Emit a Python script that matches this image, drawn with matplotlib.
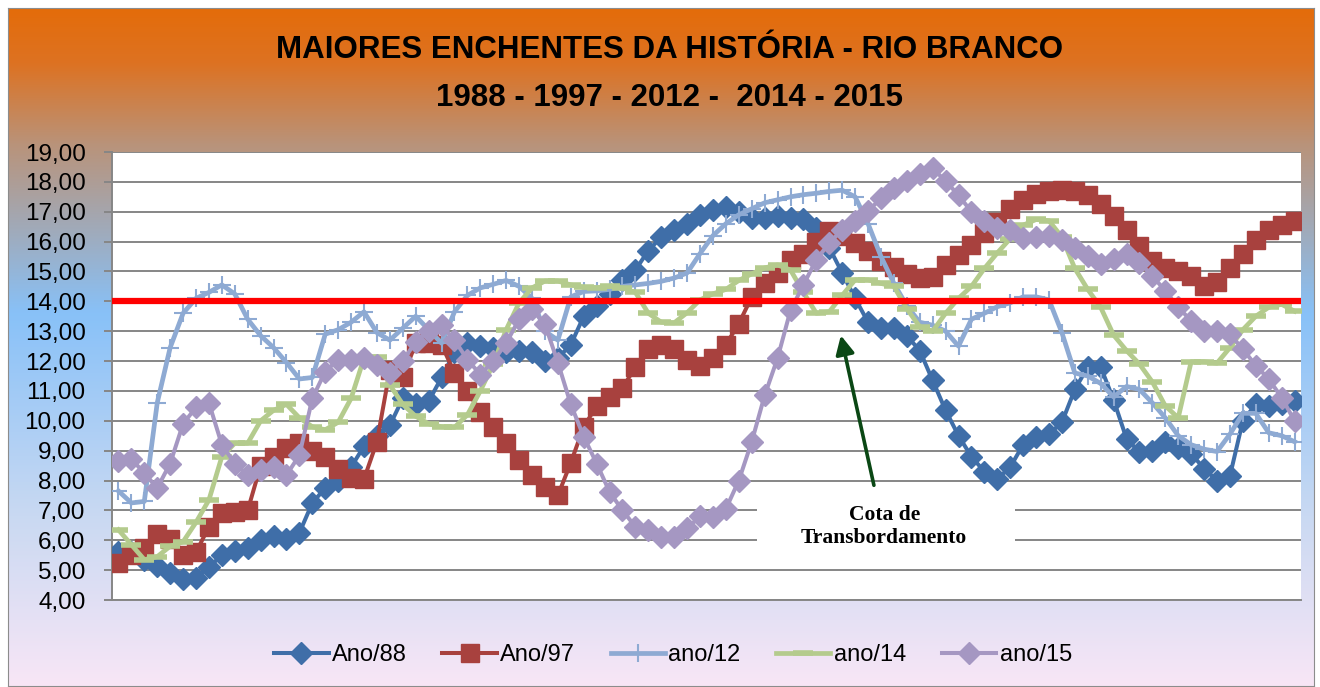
import numpy as np
import matplotlib
matplotlib.use('Agg')
import matplotlib.pyplot as plt
from matplotlib.colors import LinearSegmentedColormap
from matplotlib.lines import Line2D
from matplotlib.patches import Rectangle
from matplotlib.ticker import FuncFormatter

# cotas diarias (m)
ano88 = [5.6, 5.6, 5.35, 5.15, 4.9, 4.7, 4.75, 5.1, 5.5, 5.65,
         5.75, 6.0, 6.15, 6.05, 6.25, 7.25, 7.75, 8.0, 8.45, 9.15,
         9.5, 9.85, 10.75, 10.55, 10.65, 11.45, 12.3, 12.6, 12.5, 12.45,
         12.3, 12.35, 12.3, 12.0, 12.1, 12.55, 13.5, 13.85, 14.25, 14.7,
         15.05, 15.7, 16.15, 16.4, 16.6, 16.9, 17.05, 17.15, 17.0, 16.8,
         16.8, 16.85, 16.8, 16.75, 16.45, 15.8, 14.95, 14.1, 13.3, 13.1,
         13.1, 12.85, 12.35, 11.35, 10.35, 9.5, 8.8, 8.3, 8.05, 8.45,
         9.2, 9.45, 9.55, 9.95, 11.05, 11.8, 11.8, 10.7, 9.4, 8.95,
         9.0, 9.3, 9.1, 8.9, 8.4, 8.0, 8.15, 10.0, 10.55, 10.5,
         10.55, 10.65]
ano97 = [5.25, 5.5, 5.75, 6.2, 6.05, 5.5, 5.6, 6.45, 6.9, 6.95,
         7.0, 8.5, 8.8, 9.1, 9.25, 9.0, 8.8, 8.4, 8.1, 8.05,
         9.3, 11.7, 11.45, 12.6, 12.6, 12.55, 11.6, 11.0, 10.3, 9.8,
         9.25, 8.7, 8.2, 7.8, 7.5, 8.6, 9.8, 10.5, 10.8, 11.1,
         11.8, 12.4, 12.55, 12.4, 12.05, 11.85, 12.1, 12.55, 13.25, 14.15,
         14.6, 14.95, 15.4, 15.6, 16.0, 16.35, 16.2, 15.95, 15.7, 15.35,
         15.15, 14.9, 14.78, 14.8, 15.2, 15.55, 15.9, 16.3, 16.65, 17.1,
         17.4, 17.6, 17.68, 17.72, 17.7, 17.55, 17.25, 16.85, 16.4, 15.85,
         15.35, 15.1, 15.0, 14.85, 14.5, 14.65, 15.1, 15.6, 16.05, 16.4,
         16.55, 16.7]
ano12 = [7.65, 7.25, 7.3, 10.6, 12.45, 13.6, 14.1, 14.3, 14.55, 14.25,
         13.4, 12.85, 12.45, 11.95, 11.4, 11.45, 12.9, 13.05, 13.3, 13.65,
         12.95, 12.7, 13.1, 13.5, 13.05, 12.6, 13.65, 14.2, 14.45, 14.57,
         14.7, 14.5, 14.1, 13.0, 12.7, 14.15, 14.33, 14.35, 14.4, 14.5,
         14.55, 14.6, 14.67, 14.78, 14.95, 15.6, 16.2, 16.6, 16.9, 17.1,
         17.3, 17.4, 17.5, 17.57, 17.62, 17.68, 17.72, 17.5, 16.6, 15.5,
         14.6, 13.85, 13.3, 13.2, 13.0, 12.5, 13.4, 13.6, 13.82, 13.95,
         14.15, 14.15, 14.05, 12.95, 11.6, 11.5, 11.25, 10.8, 11.15, 11.05,
         10.6, 10.1, 9.5, 9.2, 9.05, 8.97, 9.55, 10.25, 10.25, 9.6,
         9.5, 9.3]
ano14 = [6.35, 5.85, 5.35, 5.45, 5.8, 5.95, 6.6, 7.35, 8.8, 9.25,
         9.25, 10.0, 10.35, 10.55, 10.1, 9.8, 9.7, 9.95, 10.75, 12.1,
         12.15, 11.2, 10.55, 10.15, 9.9, 9.8, 9.78, 10.2, 11.0, 11.9,
         13.05, 13.95, 14.45, 14.68, 14.68, 14.55, 14.47, 14.46, 14.5, 14.45,
         14.3, 13.6, 13.3, 13.28, 13.62, 14.05, 14.25, 14.4, 14.7, 14.92,
         15.12, 15.22, 15.05, 14.3, 13.6, 13.65, 14.2, 14.72, 14.72, 14.6,
         14.5, 13.75, 13.15, 13.0, 13.6, 14.1, 14.5, 15.1, 15.62, 16.1,
         16.55, 16.74, 16.7, 16.15, 15.1, 14.4, 13.8, 12.87, 12.35, 11.9,
         11.3, 10.5, 10.1, 11.98, 11.98, 11.93, 12.45, 13.05, 13.5, 13.8,
         13.9, 13.67]
ano15 = [8.65, 8.72, 8.25, 7.75, 8.57, 9.9, 10.45, 10.6, 9.2, 8.57,
         8.18, 8.35, 8.45, 8.18, 8.85, 10.75, 11.65, 12.05, 12.05, 12.1,
         11.88, 11.6, 12.0, 12.65, 13.0, 13.2, 12.7, 12.05, 11.55, 12.0,
         12.6, 13.4, 13.73, 13.23, 11.95, 10.55, 9.47, 8.57, 7.62, 7.0,
         6.45, 6.33, 6.11, 6.11, 6.4, 6.8, 6.78, 7.05, 8.0, 9.3,
         10.85, 12.1, 13.7, 14.55, 15.4, 15.95, 16.4, 16.68, 17.02, 17.45,
         17.8, 18.03, 18.25, 18.45, 18.03, 17.55, 17.0, 16.68, 16.47, 16.38,
         16.13, 16.15, 16.2, 16.05, 15.8, 15.52, 15.24, 15.41, 15.58, 15.3,
         14.85, 14.35, 13.8, 13.35, 13.0, 13.0, 12.9, 12.4, 11.85, 11.4,
         10.78, 10.0]

labels = ['Ano/88', 'Ano/97', 'ano/12', 'ano/14', 'ano/15']
cota = 14.0
titulo = 'MAIORES ENCHENTES DA HISTÓRIA - RIO BRANCO\n1988 - 1997 - 2012 -  2014 - 2015'

W, H = 1320, 687
fig = plt.figure(figsize=(W / 100, H / 100), dpi=100)
fig.patch.set_facecolor('white')

# fundo em degrade
cmap = LinearSegmentedColormap.from_list('bg', [(0.0, '#E46C0A'), (0.08, '#DD7222'),
                                                 (0.2, '#B9937A'), (0.45, '#88C1F8'),
                                                 (0.75, '#C9D9F2'), (1.0, '#F8E6F6')])
bg = fig.add_axes([8 / W, 1 / H, 1306 / W, 678 / H])
bg.imshow(np.linspace(0, 1, 256).reshape(-1, 1), aspect='auto', cmap=cmap, extent=[0, 1, 0, 1])
bg.set_xticks([])
bg.set_yticks([])
for s in bg.spines.values():
    s.set_color('#8C8C8C')

sans = ['Liberation Sans', 'DejaVu Sans']

ax = fig.add_axes([112 / W, 1 - 600 / H, 1189 / W, 448 / H])
ax.set_facecolor('white')
ax.set_xlim(-0.5, 91.5)
ax.set_ylim(4, 19)
ax.set_yticks(range(4, 20))
ax.yaxis.set_major_formatter(FuncFormatter(lambda v, p: ('%.2f' % v).replace('.', ',')))
ax.set_xticks([])
ax.yaxis.grid(True, color='#868686', lw=1.4)
ax.set_axisbelow(True)
for k in ['top', 'right']:
    ax.spines[k].set_visible(False)
ax.spines['left'].set_color('#868686')
ax.spines['left'].set_linewidth(1.4)
ax.spines['bottom'].set_color('#868686')
ax.spines['bottom'].set_linewidth(1.4)
ax.tick_params(axis='y', direction='out', length=6, color='#868686', width=1.4,
               labelsize=17.5, pad=13)
for t in ax.get_yticklabels():
    t.set_family(sans)

x = np.arange(len(ano88))
ax.plot(x, ano88, color='#3F6EA8', lw=2.9, marker='D', ms=11, zorder=3)
ax.plot(x, ano97, color='#A8413E', lw=2.9, marker='s', ms=13.5, zorder=4)
ax.plot(x, ano12, color='#8EAAD3', lw=3.4, marker='+', ms=13, mew=1.5, zorder=5)
ax.plot(x, ano14, color='#B4CB8D', lw=3.4, marker='_', ms=14, mew=4, zorder=6)
ax.plot(x, ano15, color='#A597C2', lw=2.9, marker='D', ms=11, zorder=7)

ax.axhline(cota, color='#FF0000', lw=4.5, zorder=10)

# caixa de texto da cota
ax.add_patch(Rectangle((49.4, 5.35), 20.0, 2.25, facecolor='white', edgecolor='none', zorder=1))
ax.text(59.25, 6.45, 'Cota de\nTransbordamento', ha='center', va='center',
        family=['Liberation Serif', 'DejaVu Serif'], weight='bold', fontsize=15.5,
        linespacing=1.2, zorder=11)
ax.annotate('', xy=(55.85, 12.95), xytext=(58.5, 7.75),
            arrowprops=dict(arrowstyle='-|>', color='#0A4714', lw=2.6, mutation_scale=28),
            zorder=11)

fig.text(670 / W, 1 - 74 / H, titulo, ha='center', va='center', family=sans,
         weight='bold', fontsize=22.5, linespacing=1.75)

handles = [Line2D([], [], color='#3F6EA8', lw=2.9, marker='D', ms=11),
           Line2D([], [], color='#A8413E', lw=2.9, marker='s', ms=13.5),
           Line2D([], [], color='#8EAAD3', lw=3.4, marker='+', ms=13, mew=1.5),
           Line2D([], [], color='#B4CB8D', lw=3.4, marker='_', ms=14, mew=4),
           Line2D([], [], color='#A597C2', lw=2.9, marker='D', ms=11)]
fig.legend(handles, labels, loc='center', bbox_to_anchor=(673 / W, 1 - 655 / H), ncol=5,
           frameon=False, prop={'family': sans, 'size': 17}, handlelength=2.3,
           handletextpad=0.15, columnspacing=1.5)

fig.savefig('out.png', dpi=100)
